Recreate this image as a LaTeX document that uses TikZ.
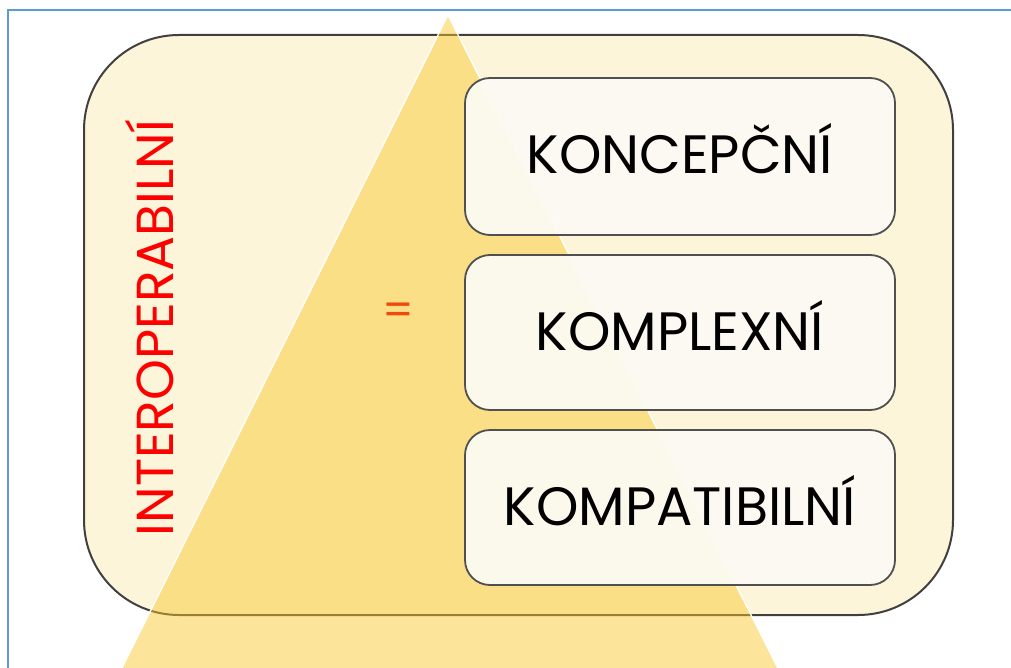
\documentclass[tikz,border=0pt]{standalone}
\usepackage{fontspec}
\setmainfont{Poppins}
\definecolor{frameblue}{HTML}{5B9BD5}
\definecolor{panelfill}{HTML}{FDF5D9}
\definecolor{panelline}{HTML}{404040}
\definecolor{gold}{HTML}{FAC72C}
\definecolor{boxfill}{HTML}{FCFAF4}
\definecolor{boxline}{HTML}{505050}
\definecolor{eqorange}{HTML}{F04A0A}
\begin{document}
\begin{tikzpicture}[x=1pt,y=-1pt,
  panel/.style={draw=panelline, line width=2pt, fill=panelfill, rounded corners=95pt,
    minimum width=869pt, minimum height=580pt, inner sep=0pt},
  pyramid/.style={fill=gold, fill opacity=0.47, draw=white, line width=1.3pt},
  itembox/.style={draw=boxline, line width=1.8pt, fill=boxfill, fill opacity=0.93,
    rounded corners=25pt, minimum width=430pt, inner sep=0pt},
  itemtext/.style={text=black, font=\fontsize{54}{60}\selectfont, inner sep=0pt},
  sidelabel/.style={text=red, rotate=90, font=\fontsize{52}{58}\selectfont},
  eqlabel/.style={text=eqorange, font=\fontsize{44}{50}\selectfont, inner sep=0pt}
]
\useasboundingbox (0,0) rectangle (1011,668);
\clip (0,0) rectangle (1011,668);
\fill[white] (0,0) rectangle (1011,668);
\draw[frameblue, line width=2pt] (8,10) rectangle (1040,700);
\node[panel] (panel) at (518.5,325) {};
\coordinate (apex) at (448,15);
\coordinate (baseL) at (106,700);
\coordinate (baseR) at (794,700);
\path[pyramid] (apex) -- (baseL) -- (baseR) -- cycle;
\node[itembox, minimum height=157pt] (b1) at (680,156.5) {};
\node[itembox, minimum height=155pt] (b2) at (680,332.5) {};
\node[itembox, minimum height=155pt] (b3) at (680,507.5) {};
\node[itemtext] (t1) at ([yshift=8pt]b1.center) {KONCEPČNÍ};
\node[itemtext] (t2) at ([yshift=7pt]b2.center) {KOMPLEXNÍ};
\node[itemtext] (t3) at ([yshift=7pt]b3.center) {KOMPATIBILNÍ};
\node[sidelabel] (lbl) at (150,328) {INTEROPERABILNÍ};
\node[eqlabel] (eq) at (398,314) {=};
\end{tikzpicture}
\end{document}
